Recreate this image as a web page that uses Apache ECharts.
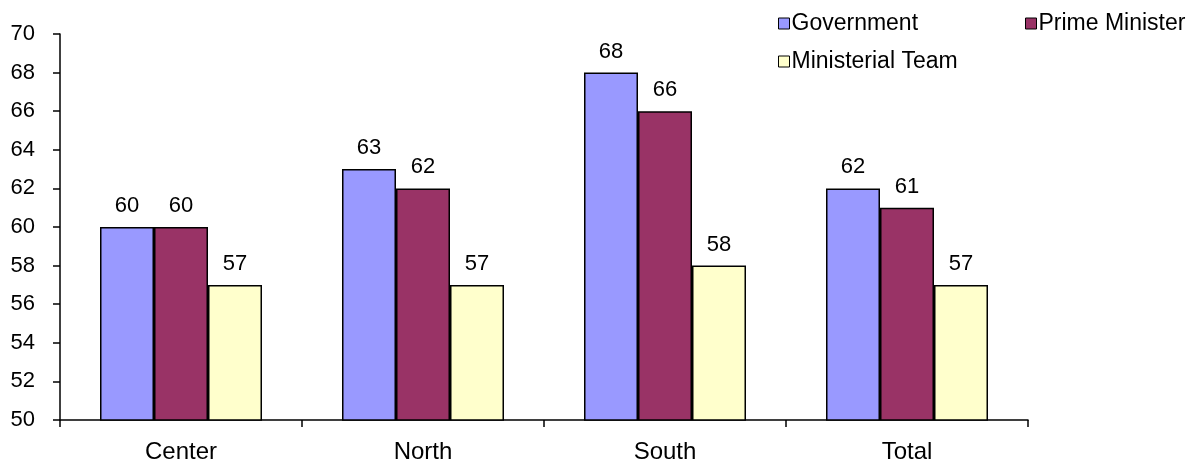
<!DOCTYPE html>
<html>
<head>
<meta charset="utf-8">
<script src="https://cdn.jsdelivr.net/npm/echarts@6/dist/echarts.min.js"></script>
<style>
  html, body { margin: 0; padding: 0; background: #fff; }
  #chart { width: 1198px; height: 464px; }
</style>
</head>
<body>
<div id="chart"></div>
<script>
// Regions and ratings per body
const regions = ['Center', 'North', 'South', 'Total'];
const government = [60, 63, 68, 62];
const primeMinister = [60, 62, 66, 61];
const ministerialTeam = [57, 57, 58, 57];
const yTicks = { min: 50, max: 70, step: 2 };

const FONT = '"Liberation Sans", Arial, sans-serif';
const chart = echarts.init(document.getElementById('chart'));

function barSeries(name, data, color) {
  return {
    name: name,
    type: 'bar',
    data: data,
    barWidth: 54,
    barGap: '0%',
    itemStyle: { color: color, borderColor: '#000', borderWidth: 1.5 },
    label: {
      show: true,
      position: 'top',
      distance: 10,
      color: '#000',
      fontFamily: FONT,
      fontSize: 22
    }
  };
}

function legendAt(name, left, top) {
  return {
    data: [name],
    left: left,
    top: top,
    padding: 0,
    icon: 'rect',
    itemWidth: 11,
    itemHeight: 11,
    itemStyle: { borderColor: '#000', borderWidth: 1 },
    textStyle: { fontFamily: FONT, fontSize: 23, color: '#000', padding: [0, 0, 0, -3] },
    selectedMode: false
  };
}

chart.setOption({
  animation: false,
  backgroundColor: '#fff',
  grid: { left: 60, right: 170, top: 34, bottom: 44 },
  legend: [
    legendAt('Government', 778, 12),
    legendAt('Prime Minister', 1025, 12),
    legendAt('Ministerial Team', 778, 50)
  ],
  xAxis: {
    type: 'category',
    data: regions,
    axisLine: { lineStyle: { color: '#000', width: 1.5 } },
    axisTick: { show: true, alignWithLabel: false, length: 7, lineStyle: { color: '#000', width: 1.5 } },
    axisLabel: { color: '#000', fontFamily: FONT, fontSize: 24, margin: 20 },
    splitLine: { show: false }
  },
  yAxis: {
    type: 'value',
    min: yTicks.min,
    max: yTicks.max,
    interval: yTicks.step,
    axisLine: { show: true, lineStyle: { color: '#000', width: 1.5 } },
    axisTick: { show: true, length: 7, lineStyle: { color: '#000', width: 1.5 } },
    axisLabel: { color: '#000', fontFamily: FONT, fontSize: 22, margin: 25 },
    splitLine: { show: false }
  },
  series: [
    barSeries('Government', government, '#9999FF'),
    barSeries('Prime Minister', primeMinister, '#993366'),
    barSeries('Ministerial Team', ministerialTeam, '#FFFFCC')
  ]
});
</script>
</body>
</html>
